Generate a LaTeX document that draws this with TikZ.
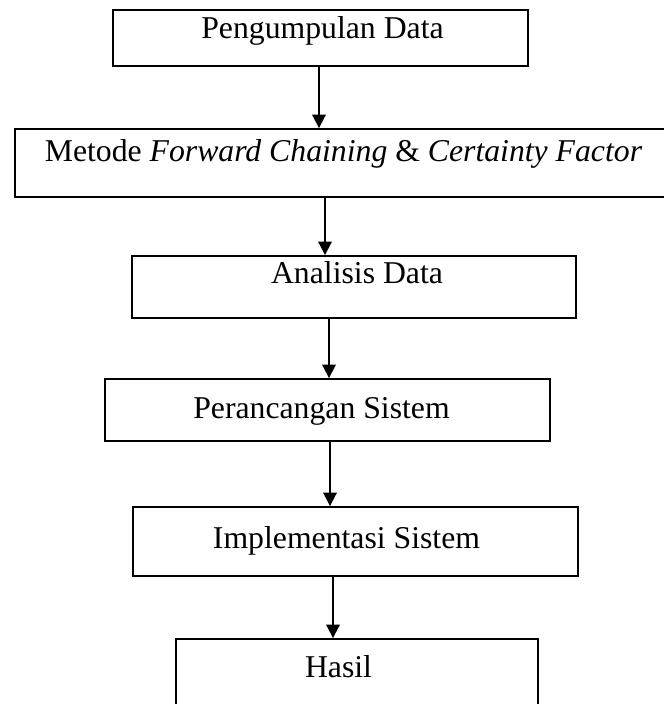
\documentclass[tikz,border=0pt]{standalone}
\usepackage{fontspec}
\setmainfont{Liberation Serif}
\usetikzlibrary{arrows.meta}
\begin{document}
\begin{tikzpicture}[x=0.75pt,y=-0.75pt,
    box/.style={draw, line width=1.4pt, rectangle, inner sep=0pt},
    lbl/.style={font=\fontsize{23.8}{28}\selectfont, anchor=base, inner sep=0pt},
    arr/.style={-{Triangle[length=10pt,width=10pt]}, line width=1.4pt}]
        % Page size, boxes running off the edge are cut
        \useasboundingbox (0,0) rectangle (664,704);
        \clip (0,0) rectangle (664,704);
        % Boxes (sizes in pt)
        \node[box, minimum width=311.25pt, minimum height=42pt] (pd) at (320.5,38) {};
        \node[box, minimum width=489.75pt, minimum height=51pt] (mt) at (341.5,163) {};
        \node[box, minimum width=333pt, minimum height=46.5pt] (ad) at (354,287) {};
        \node[box, minimum width=333.75pt, minimum height=46.5pt] (ps) at (327.5,410) {};
        \node[box, minimum width=333.75pt, minimum height=51.75pt] (is) at (355.5,541.5) {};
        \node[box, minimum width=271.5pt, minimum height=60.75pt] (hs) at (357,679.5) {};
        % Texts
        \node[lbl] (pdtext) at (322.5,38) {Pengumpulan Data};
        \node[lbl] (mttext) at (343.5,161) {Metode \textit{Forward Chaining} \& \textit{Certainty Factor}};
        \node[lbl] (adtext) at (357,283) {Analisis Data};
        \node[lbl] (pstext) at (321.5,418) {Perancangan Sistem};
        \node[lbl] (istext) at (346.5,548) {Implementasi Sistem};
        \node[lbl] (hstext) at (338.5,677) {Hasil};
        % Arrows, a little left of the box middles
        \coordinate (a1) at (319,0);
        \coordinate (a2) at (325,0);
        \coordinate (a3) at (329,0);
        \coordinate (a4) at (330,0);
        \coordinate (a5) at (333,0);
        \foreach \s/\t/\c in {pd/mt/a1, mt/ad/a2, ad/ps/a3, ps/is/a4, is/hs/a5} {
          \draw[arr] (\s.south -| \c) -- (\t.north -| \c);
        }
      \end{tikzpicture}
\end{document}
